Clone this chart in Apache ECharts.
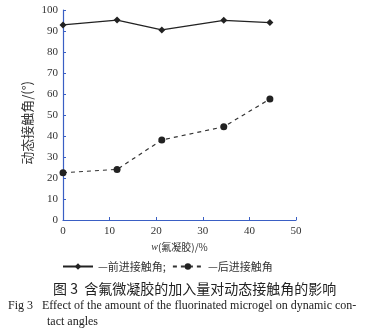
<!DOCTYPE html>
<html><head><meta charset="utf-8">
<script src="https://cdn.jsdelivr.net/npm/echarts@6/dist/echarts.min.js"></script>
<style>html,body{margin:0;padding:0;background:#fff}#c{width:367px;height:335px}</style>
</head><body><div id="c"></div>
<script>
const xValues = [0, 11.6, 21.2, 34.5, 44.4];
const advancing = [92.9, 95.2, 90.5, 95.1, 94.0];
const receding = [22.5, 24.1, 38.1, 44.4, 57.6];
const seriesNames = ['—前进接触角;', '—后进接触角'];
const xTicks = [0, 10, 20, 30, 40, 50];
const yTicks = [0, 10, 20, 30, 40, 50, 60, 70, 80, 90, 100];

const serif = '"Liberation Serif","DejaVu Serif",serif';
const cjk = '"Noto Sans CJK SC",sans-serif';
const axisBlue = '#3a5fc4';
const chart = echarts.init(document.getElementById('c'));
chart.setOption({
  backgroundColor: '#fff',
  animation: false,
  grid: { left: 63, right: 71, top: 10, bottom: 115 },
  xAxis: {
    type: 'value', min: xTicks[0], max: xTicks[xTicks.length - 1], interval: 10,
    axisLine: { lineStyle: { color: axisBlue, width: 1.2 } },
    axisTick: { inside: true, length: 3, lineStyle: { color: axisBlue } },
    splitLine: { show: false },
    axisLabel: { color: '#333', fontFamily: serif, fontSize: 11, margin: 6 },
    name: '{i|w}(氟凝胶)/%', nameLocation: 'middle', nameGap: 20,
    nameTextStyle: { color: '#333', fontFamily: cjk, fontSize: 10,
      rich: { i: { fontFamily: serif, fontStyle: 'italic', fontSize: 10, color: '#333' } } }
  },
  yAxis: {
    type: 'value', min: yTicks[0], max: yTicks[yTicks.length - 1], interval: 10,
    axisLine: { show: true, lineStyle: { color: axisBlue, width: 1.2 } },
    axisTick: { show: true, inside: true, length: 3, lineStyle: { color: axisBlue } },
    splitLine: { show: false },
    axisLabel: { color: '#333', fontFamily: serif, fontSize: 11, margin: 5 }
  },
  legend: {
    top: 256, left: 57, itemWidth: 30, itemHeight: 8, itemGap: 6,
    textStyle: { color: '#333', fontFamily: cjk, fontSize: 11 },
    data: seriesNames
  },
  series: [
    { name: seriesNames[0], type: 'line', data: xValues.map((x, i) => [x, advancing[i]]),
      symbol: 'diamond', symbolSize: 7, color: '#222',
      lineStyle: { color: '#222', width: 1.3 }, itemStyle: { color: '#222' } },
    { name: seriesNames[1], type: 'line', data: xValues.map((x, i) => [x, receding[i]]),
      symbol: 'circle', symbolSize: 7, color: '#222',
      lineStyle: { color: '#333', width: 1.2, type: [4, 4] }, itemStyle: { color: '#222' } }
  ],
  graphic: [
    { type: 'text', x: 27, y: 123, rotation: Math.PI / 2,
      style: { text: '动态接触角/(°)', fill: '#333', font: '13px "Noto Sans CJK SC"',
        textAlign: 'center', textVerticalAlign: 'middle' } },
    { type: 'text', left: 53, top: 282,
      style: { text: '图 3  含氟微凝胶的加入量对动态接触角的影响', fill: '#222', font: '14px "Noto Sans CJK SC"' } },
    { type: 'text', left: 8, top: 300,
      style: { text: 'Fig 3   Effect of the amount of the fluorinated microgel on dynamic con-', fill: '#222', font: '12px "Liberation Serif"' } },
    { type: 'text', left: 47, top: 316,
      style: { text: 'tact angles', fill: '#222', font: '12px "Liberation Serif"' } }
  ]
});
</script></body></html>
